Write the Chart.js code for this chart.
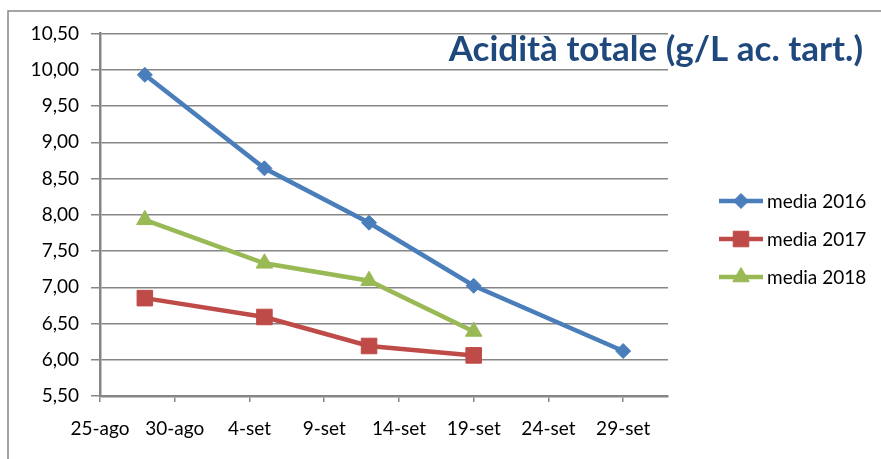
<!DOCTYPE html>
<html>
<head>
<meta charset="utf-8">
<script src="https://cdn.jsdelivr.net/npm/chart.js@4/dist/chart.umd.min.js"></script>
<style>
  html, body { margin: 0; padding: 0; background: #fff; }
  #wrap { position: relative; width: 881px; height: 459px; }
</style>
</head>
<body>
<div id="wrap"><canvas id="c" width="881" height="459"></canvas></div>
<script>
// ---- data ----
const chartTitle = 'Acidità totale (g/L ac. tart.)';
const xTickLabels = ['25-ago', '30-ago', '4-set', '9-set', '14-set', '19-set', '24-set', '29-set'];
const seriesNames = ['media 2016', 'media 2017', 'media 2018'];
const dates2016 = ['28-ago', '5-set', '12-set', '19-set', '29-set'];
const values2016 = [9.93, 8.64, 7.89, 7.02, 6.12];
const dates2017 = ['28-ago', '5-set', '12-set', '19-set'];
const values2017 = [6.85, 6.59, 6.19, 6.06];
const dates2018 = ['28-ago', '5-set', '12-set', '19-set'];
const values2018 = [7.93, 7.33, 7.09, 6.39];
const yMin = 5.5, yMax = 10.5, yStep = 0.5;

// days since 25-ago
function dayIndex(s) {
  const [d, m] = s.split('-');
  const n = parseInt(d, 10);
  return m === 'ago' ? n - 25 : n + 6;
}
function toPoints(dates, vals) {
  return dates.map((d, i) => ({ x: dayIndex(d), y: vals[i] }));
}

const colors = ['#4A7EBB', '#BE4B48', '#98B954'];
const styles = [
  { pointStyle: 'rectRot', radius: 7.5 },
  { pointStyle: 'rect', radius: 11 },
  { pointStyle: 'triangle', radius: 9.5 }
];
const GRAY = '#868686';
const FONT = 'Lato, "Open Sans", sans-serif';

const seriesData = [
  toPoints(dates2016, values2016),
  toPoints(dates2017, values2017),
  toPoints(dates2018, values2018)
];

const datasets = seriesData.map((pts, i) => ({
  label: seriesNames[i],
  data: pts,
  borderColor: colors[i],
  backgroundColor: colors[i],
  borderWidth: 4.5,
  pointStyle: styles[i].pointStyle,
  pointRadius: styles[i].radius,
  pointHoverRadius: styles[i].radius,
  pointBackgroundColor: colors[i],
  pointBorderColor: colors[i],
  pointBorderWidth: 1,
  tension: 0,
  fill: false
}));

const decorPlugin = {
  id: 'decor',
  beforeDraw(chart) {
    const ctx = chart.ctx;
    ctx.save();
    ctx.fillStyle = '#fff';
    ctx.fillRect(0, 0, chart.width, chart.height);
    ctx.strokeStyle = GRAY;
    ctx.lineWidth = 1.5;
    ctx.strokeRect(8, 11, chart.width + 20, chart.height + 20);
    ctx.restore();
  },
  afterDraw(chart) {
    const ctx = chart.ctx;
    ctx.save();
    // title
    ctx.font = 'bold 35px ' + FONT;
    ctx.fillStyle = '#1F497D';
    ctx.textAlign = 'right';
    ctx.textBaseline = 'alphabetic';
    ctx.fillText(chartTitle, 863, 61);
    // legend
    const rows = [201, 239, 277];
    chart.data.datasets.forEach((ds, i) => {
      const y = rows[i];
      ctx.strokeStyle = ds.borderColor;
      ctx.lineWidth = 4.5;
      ctx.beginPath();
      ctx.moveTo(719, y);
      ctx.lineTo(763, y);
      ctx.stroke();
      ctx.fillStyle = ds.pointBackgroundColor;
      ctx.strokeStyle = ds.pointBorderColor;
      ctx.lineWidth = 1;
      Chart.helpers.drawPoint(ctx, { pointStyle: ds.pointStyle, radius: ds.pointRadius, rotation: 0, borderWidth: 1 }, 741, y);
      ctx.fillStyle = '#000';
      ctx.font = '19px ' + FONT;
      ctx.textAlign = 'left';
      ctx.textBaseline = 'middle';
      ctx.fillText(ds.label, 767, y + 1);
    });
    ctx.restore();
  }
};

new Chart(document.getElementById('c'), {
  type: 'line',
  data: { datasets },
  plugins: [decorPlugin],
  options: {
    responsive: false,
    animation: false,
    events: [],
    layout: { padding: { left: 0, top: 33.5, right: 213, bottom: 0 } },
    plugins: {
      legend: { display: false },
      title: { display: false },
      tooltip: { enabled: false }
    },
    scales: {
      x: {
        type: 'linear',
        min: 0,
        max: 38,
        afterFit(scale) { scale.height = 63; },
        grid: { display: true, drawOnChartArea: false, drawTicks: true, tickLength: 6, color: GRAY, lineWidth: 1.5 },
        border: { display: true, color: GRAY, width: 2.5 },
        ticks: {
          stepSize: 5,
          includeBounds: false,
          autoSkip: false,
          maxRotation: 0,
          padding: 15,
          color: '#000',
          font: { family: FONT, size: 19 },
          callback: (v) => xTickLabels[Math.round(v / 5)] ?? ''
        }
      },
      y: {
        min: yMin,
        max: yMax,
        afterFit(scale) { scale.width = 100; },
        grid: { display: true, drawTicks: true, tickLength: 9, color: GRAY, lineWidth: 1.5 },
        border: { display: true, color: GRAY, width: 2.5 },
        ticks: {
          stepSize: yStep,
          padding: 12,
          color: '#000',
          font: { family: FONT, size: 19 },
          callback: (v) => v.toFixed(2).replace('.', ',')
        }
      }
    }
  }
});
</script>
</body>
</html>
